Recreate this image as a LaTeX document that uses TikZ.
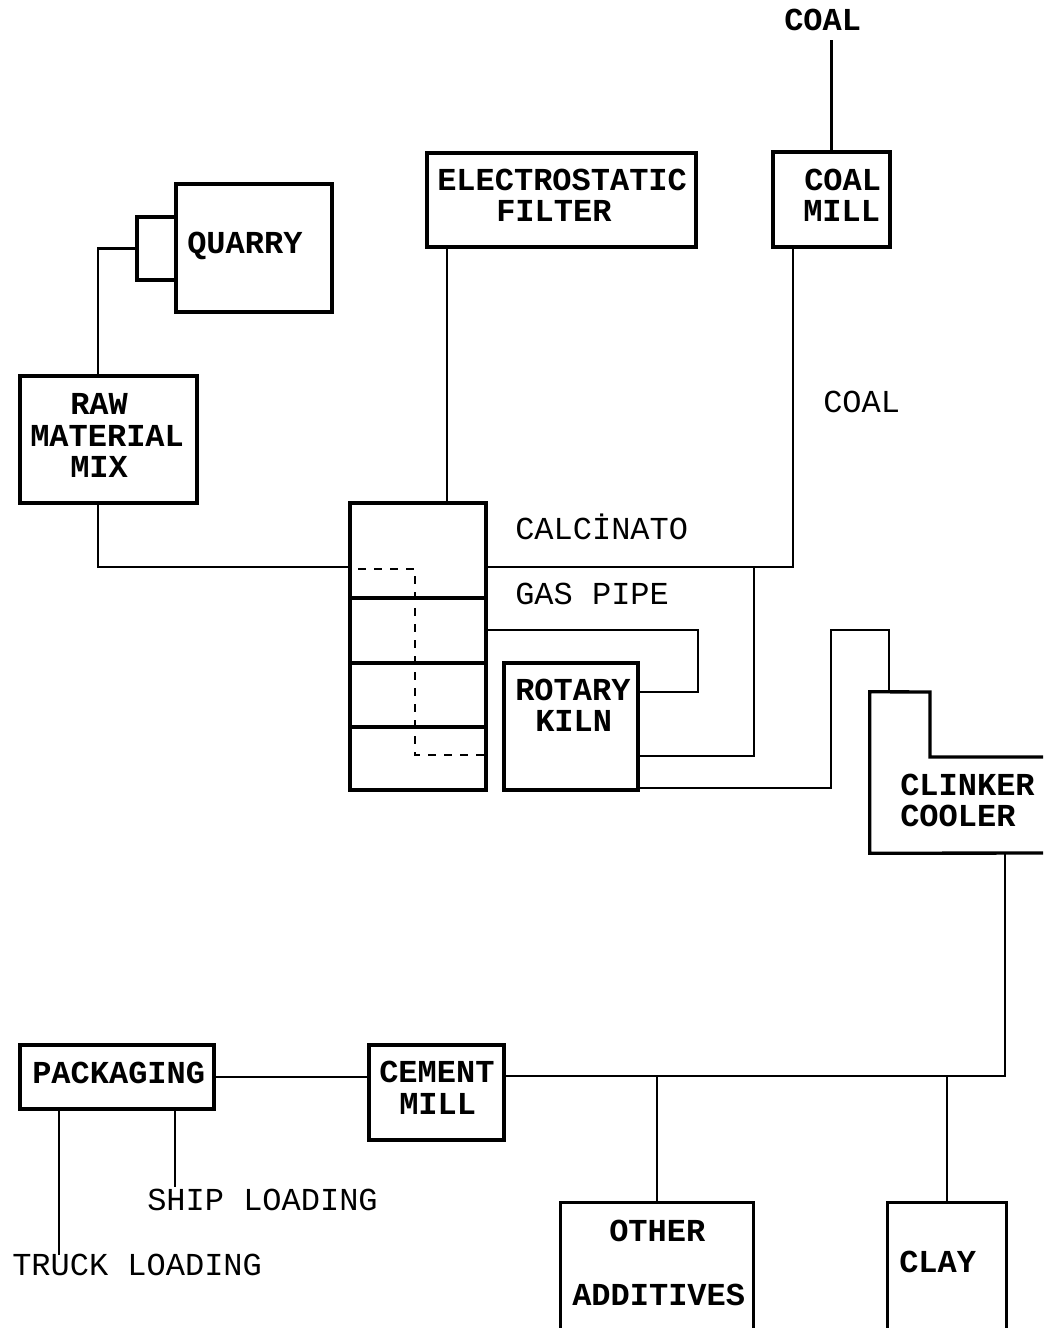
\documentclass[tikz,border=0pt]{standalone}
\usepackage{fontspec}
\setmonofont{Liberation Mono}
\usetikzlibrary{fit}
\begin{document}
\begin{tikzpicture}[x=0.75pt,y=-0.75pt,
  box/.style={draw, line width=2.5pt, inner sep=0pt},
  conn/.style={line width=1.7pt},
  lab/.style={anchor=base west, inner sep=0pt, font=\ttfamily\bfseries\fontsize{24}{28}\selectfont},
  plab/.style={anchor=base west, inner sep=0pt, font=\ttfamily\fontsize{24}{28}\selectfont},
  dashln/.style={line width=1.2pt, dash pattern=on 6pt off 6pt}]
\useasboundingbox (0,0) rectangle (1043,1328);

% boxes
\node[box, fit={(176,184) (332,312)}] (quarry) {};
\node[box, fit={(137,217) (176,280)}] (qconn) {};
\node[box, fit={(20,376) (197,503)}] (raw) {};
\node[box, fit={(427,153) (696,247)}] (ef) {};
\node[box, fit={(773,152) (890,247)}] (cm) {};
\node[box, fit={(350,503) (486,790)}] (calc) {};
\node[box, fit={(504,663) (638,790)}] (kiln) {};
\node[box, fit={(369,1045) (504,1140)}] (cem) {};
\node[box, fit={(20,1045) (214,1109)}] (pack) {};
\node[inner sep=0pt, fit={(870,692) (1041,853)}] (cool) {};
\node[inner sep=0pt, fit={(561,1203) (753,1328)}] (add) {};
\node[inner sep=0pt, fit={(888,1203) (1006,1328)}] (clay) {};

% calcinator dividers and dashed inner path
\draw[box] (calc.west |- 0,598) -- (calc.east |- 0,598);
\draw[box] (calc.west |- 0,663) -- (calc.east |- 0,663);
\draw[box] (calc.west |- 0,727) -- (calc.east |- 0,727);
\draw[dashln] (358,569) -| (415,755) -- (calc.east |- 0,755);

% clinker cooler L-shape (open to the right)
\draw[line width=2.5pt] (1043,757) -- (930,757) -- (930,692) -- (cool.north west) -- (cool.south west) -- (1043,853);

% open-bottom boxes
\draw[line width=2.5pt] (add.south west) -- (add.north west) -- (add.north east) -- (add.south east);
\draw[line width=2.5pt] (clay.south west) -- (clay.north west) -- (clay.north east) -- (clay.south east);

% labels
\node[lab] (tq) at (187,253) {QUARRY};
\node[lab] (tr1) at (70,414) {RAW};
\node[lab] (tr2) at (30,446) {MATERIAL};
\node[lab] (tr3) at (70,477) {MIX};
\node[lab] (te1) at (437,190) {ELECTROSTATIC};
\node[lab] (te2) at (496,221) {FILTER};
\node[lab] (tc1) at (804,190) {COAL};
\node[lab] (tc2) at (803,221) {MILL};
\node[lab] (coaltop) at (784,30) {COAL};
\node[plab] (coalmid) at (823,412) {COAL};
\node[plab] (tcalc) at (515,539) {CALCİNATO};
\node[plab] (tgas) at (515,604) {GAS PIPE};
\node[lab] (tk1) at (515,700) {ROTARY};
\node[lab] (tk2) at (535,731) {KILN};
\node[lab] (tcl1) at (900,795) {CLINKER};
\node[lab] (tcl2) at (900,826) {COOLER};
\node[lab] (tp) at (32,1083) {PACKAGING};
\node[lab] (tcm1) at (379,1082) {CEMENT};
\node[lab] (tcm2) at (399,1114) {MILL};
\node[plab] (ship) at (147,1210) {SHIP LOADING};
\node[plab] (truck) at (12,1275) {TRUCK LOADING};
\node[lab] (ta1) at (609,1241) {OTHER};
\node[lab] (ta2) at (572,1305) {ADDITIVES};
\node[lab] (tcy) at (899,1272) {CLAY};

% connectors
\draw[conn] (qconn.west) -| ([xshift=-7.9pt]raw.north);
\draw[conn] ([xshift=-7.9pt]raw.south) |- ([yshift=59.6pt]calc.west);
\draw[conn] ([xshift=-85.9pt]ef.south) -- ([xshift=-85.9pt]ef.south |- calc.north);
\draw[conn] (cm.north |- 0,40) -- (cm.north);
\draw[conn] ([xshift=-28.9pt]cm.south) |- ([yshift=59.6pt]calc.east);
\coordinate (j1) at (754,567);
\draw[conn] (j1) |- ([yshift=-22.1pt]kiln.east);
\draw[conn] ([yshift=12.4pt]calc.east) -- ++(210,0) |- ([yshift=25.9pt]kiln.east);
\coordinate (bend) at (831,630);
\draw[conn] ([yshift=-46.1pt]kiln.east) -| (bend) -| ([xshift=14.3pt]cool.north west);
\coordinate (bus) at ([yshift=12.4pt]cem.east);
\draw[conn] ([xshift=101.25pt]cool.south west) |- (bus);
\draw[conn] (add.north) -- (add.north |- bus);
\draw[conn] (clay.north) -- (clay.north |- bus);
\draw[conn] (pack.east) -- (pack.east -| cem.west);
\draw[conn] ([xshift=-43.5pt]pack.south) -- ([xshift=-43.5pt]pack.south |- 0,1255);
\draw[conn] ([xshift=43.5pt]pack.south) -- ([xshift=43.5pt]pack.south |- 0,1187);
\end{tikzpicture}
\end{document}
